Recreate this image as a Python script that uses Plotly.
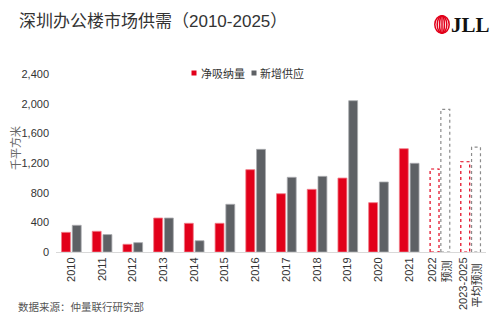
import plotly.graph_objects as go

# ---- data (thousand sq m) ----
categories = ["2010", "2011", "2012", "2013", "2014", "2015", "2016", "2017",
              "2018", "2019", "2020", "2021", "2022<br>预测&nbsp;", "2023-2025<br>平均预测&nbsp;&nbsp;"]
net_absorption = [265, 279, 104, 458, 387, 387, 1110, 786, 845, 997, 665, 1393, 1119, 1217]
new_supply = [360, 235, 126, 458, 152, 643, 1384, 1007, 1020, 2040, 944, 1196, 1923, 1415]
n_actual = 12  # the last two categories are forecasts
y_ticks = [0, 400, 800, 1200, 1600, 2000, 2400]
series_names = ["净吸纳量", "新增供应"]

RED = "#E2001A"
GREY = "#5E6165"

W, H = 500, 325
L, R, T, B = 56, 14, 74, 73
PW, PH = W - L - R, H - T - B


def px_x(x):
    return (x - L) / PW


def px_y(y):
    return (H - B - y) / PH


bar_w = 0.29
gap = 0.06
red_off = -(bar_w + gap / 2)
grey_off = gap / 2

xs = list(range(len(categories)))
fig = go.Figure()

# actual years: solid bars
fig.add_trace(go.Bar(
    x=xs[:n_actual], y=net_absorption[:n_actual], name=series_names[0],
    width=bar_w, offset=red_off, showlegend=False,
    marker=dict(color=RED, line=dict(color="#F07A86", width=0.8)),
))
fig.add_trace(go.Bar(
    x=xs[:n_actual], y=new_supply[:n_actual], name=series_names[1],
    width=bar_w, offset=grey_off, showlegend=False,
    marker=dict(color=GREY, line=dict(color="#A9ABAE", width=0.8)),
))


# forecasts: dotted outlines
def outline(xi, v, off, color):
    x0, x1 = xi + off, xi + off + bar_w
    return go.Scatter(
        x=[x0, x0, x1, x1, x0], y=[0, v, v, 0, 0], mode="lines",
        line=dict(color=color, width=1.2, dash="dot"),
        showlegend=False, hoverinfo="skip",
    )


for i in range(n_actual, len(categories)):
    fig.add_trace(outline(xs[i], net_absorption[i], red_off, RED))
    fig.add_trace(outline(xs[i], new_supply[i], grey_off, "#8C8C8C"))

font_main = "Liberation Sans, Arial, Noto Sans CJK SC, sans-serif"

annotations = [
    dict(text="深圳办公楼市场供需（2010-2025）", x=px_x(17), y=px_y(21),
         xref="paper", yref="paper", xanchor="left", yanchor="middle",
         showarrow=False, font=dict(size=17, color="#333333", family=font_main)),
    dict(text="千平方米", x=px_x(15), y=px_y(148), textangle=-90,
         xref="paper", yref="paper", xanchor="center", yanchor="middle",
         showarrow=False, font=dict(size=11, color="#666666", family=font_main)),
    dict(text="数据来源：仲量联行研究部", x=px_x(16), y=px_y(307),
         xref="paper", yref="paper", xanchor="left", yanchor="middle",
         showarrow=False, font=dict(size=10.5, color="#555555", family=font_main)),
    dict(text="<b>JLL</b>", x=px_x(449), y=px_y(25),
         xref="paper", yref="paper", xanchor="left", yanchor="middle",
         showarrow=False, font=dict(size=21, color="#111111",
                                    family="Liberation Serif, DejaVu Serif, serif")),
]

shapes = []

# legend: small squares with labels
legend_items = [(194, 199, RED, series_names[0]), (254, 258, GREY, series_names[1])]
for sq_x, txt_x, col, name in legend_items:
    shapes.append(dict(
        type="rect", xref="paper", yref="paper",
        xsizemode="pixel", ysizemode="pixel",
        xanchor=px_x(sq_x), yanchor=px_y(73),
        x0=-2.5, x1=2.5, y0=-2.5, y1=2.5,
        fillcolor=col, line=dict(width=0),
    ))
    annotations.append(dict(
        text=name, x=px_x(txt_x), y=px_y(73),
        xref="paper", yref="paper", xanchor="left", yanchor="middle",
        showarrow=False, font=dict(size=11, color="#333333", family=font_main),
    ))

# logo: nested ovals
for hw in [7.2, 4.8, 2.4]:
    shapes.append(dict(
        type="circle", xref="paper", yref="paper",
        xsizemode="pixel", ysizemode="pixel",
        xanchor=px_x(442), yanchor=px_y(24.5),
        x0=-hw, x1=hw, y0=-8.7, y1=8.7,
        line=dict(color=RED, width=1.5),
    ))
shapes.append(dict(
    type="line", xref="paper", yref="paper",
    xsizemode="pixel", ysizemode="pixel",
    xanchor=px_x(442), yanchor=px_y(24.5),
    x0=0, x1=0, y0=-8.7, y1=8.7,
    line=dict(color=RED, width=1.5),
))

fig.update_layout(
    width=W, height=H,
    margin=dict(l=L, r=R, t=T, b=B, autoexpand=False),
    paper_bgcolor="white", plot_bgcolor="white",
    barmode="overlay",
    showlegend=False,
    annotations=annotations,
    shapes=shapes,
    xaxis=dict(
        range=[-0.5, len(categories) - 0.5],
        tickmode="array", tickvals=xs, ticktext=categories,
        tickangle=-90, showgrid=False, zeroline=False,
        showline=True, linecolor="#D9D9D9", linewidth=1,
        ticks="", tickfont=dict(size=11, color="#333333", family=font_main),
        fixedrange=True,
    ),
    yaxis=dict(
        range=[0, 2400], tickmode="array", tickvals=y_ticks,
        tickformat=",", showgrid=False, zeroline=False, showline=False,
        ticks="", ticklabelstandoff=6,
        tickfont=dict(size=11, color="#333333", family=font_main),
        fixedrange=True,
    ),
)

fig.write_html("out.html")
